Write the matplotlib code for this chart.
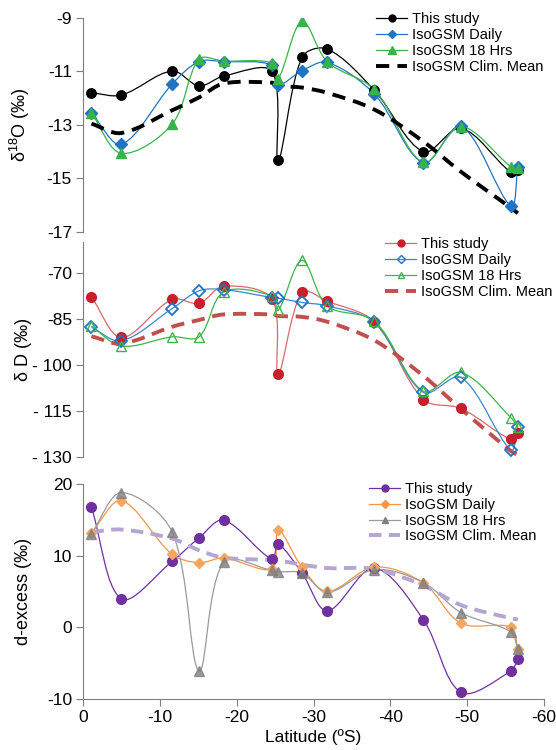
import numpy as np
import matplotlib
matplotlib.use("Agg")
import matplotlib.pyplot as plt
from matplotlib.path import Path
from matplotlib.patches import PathPatch
from matplotlib.lines import Line2D

plt.rcParams['font.family'] = ['Liberation Sans', 'DejaVu Sans']
plt.rcParams['mathtext.fontset'] = 'custom'
plt.rcParams['mathtext.rm'] = 'Liberation Sans'

# latitude of the samples (deg, negative = south)
lat = [-1.1, -5.0, -11.6, -15.1, -18.3, -24.6, -25.4, -28.5, -31.8, -37.9, -44.3, -49.2, -55.7, -56.6]

# delta 18O
d18o_study = [-11.8, -11.88, -10.98, -11.54, -11.17, -11.0, -14.31, -10.47, -10.16, -11.7, -14.0, -13.12, -14.77, -14.68]
d18o_daily = [-12.56, -13.72, -11.47, -10.63, -10.63, -10.76, -11.5, -10.97, -10.66, -11.84, -14.41, -13.04, -16.03, -14.58]
d18o_18h = [-12.56, -14.06, -12.97, -10.54, -10.61, -10.68, -11.28, -9.12, -10.64, -11.67, -14.4, -13.06, -14.56, -14.62]
d18o_clim = [-12.95, -13.3, -12.45, -11.97, -11.45, -11.42, -11.54, -11.6, -11.8, -12.42, -13.62, -14.75, -16.1, -16.3]

# delta D
dD_study = [-77.8, -91.0, -78.6, -79.9, -74.3, -78.5, -102.8, -76.3, -79.2, -85.9, -111.2, -114.1, -124.2, -122.1]
dD_daily = [-87.7, -92.1, -81.6, -75.8, -75.4, -78.0, -78.2, -79.6, -80.7, -86.1, -108.9, -104.0, -127.7, -120.0]
dD_18h = [-87.3, -93.8, -90.8, -90.8, -76.2, -77.5, -82.2, -65.9, -80.8, -85.6, -108.5, -102.4, -117.1, -120.3]
dD_clim = [-90.6, -93.0, -87.5, -85.3, -83.5, -83.5, -84.0, -84.3, -85.9, -91.9, -103.5, -114.3, -128.0, -129.2]

# d-excess
dex_study = [16.73, 3.97, 9.2, 12.48, 14.95, 9.5, 11.6, 7.57, 2.29, 8.27, 1.05, -9.07, -6.1, -4.42]
dex_daily = [13.18, 17.66, 10.19, 9.02, 9.67, 8.2, 13.58, 8.41, 5.0, 8.41, 6.2, 0.56, 0.0, -3.07]
dex_18h = [13.08, 18.79, 13.32, -6.05, 9.11, 7.94, 7.76, 7.57, 4.86, 8.04, 6.25, 2.05, -0.65, -3.07]
dex_clim = [13.3, 13.64, 12.38, 10.75, 9.72, 9.4, 9.35, 8.74, 8.27, 8.13, 5.85, 3.1, 1.26, 1.1]

names = ["This study", "IsoGSM Daily", "IsoGSM 18 Hrs", "IsoGSM Clim. Mean"]
spine_col = '#7f7f7f'


def smooth_path(x, y, sx, sy):
    # excel-like smoothed line, bezier control points from neighbours
    p = np.column_stack([x, y]).astype(float)
    s = np.array([sx, sy])
    n = len(p)
    def dist(a, b):
        return np.hypot(*((b - a) * s))
    verts = [p[0]]
    codes = [Path.MOVETO]
    for i in range(n - 1):
        p0 = p[i - 1] if i > 0 else p[i]
        p1, p2 = p[i], p[i + 1]
        p3 = p[i + 2] if i + 2 < n else p[i + 1]
        d01, d12, d23 = dist(p0, p1), dist(p1, p2), dist(p2, p3)
        m1 = (p2 - p0) / max(d01 + d12, 1e-9)
        m2 = (p3 - p1) / max(d12 + d23, 1e-9)
        verts += [p1 + m1 * d12 / 3, p2 - m2 * d12 / 3, p2]
        codes += [Path.CURVE4] * 3
    return Path(verts, codes)


def draw_series(ax, y, color, lw, marker=None, ms=7, mfc=None, mew=1.0,
                dashes=None, alpha=1.0, mcolor=None):
    x0, x1 = ax.get_xlim()
    y0, y1 = ax.get_ylim()
    bb = ax.get_position()
    sx = bb.width * 556 / abs(x1 - x0)
    sy = bb.height * 750 / abs(y1 - y0)
    ls = '-' if dashes is None else (0, dashes)
    patch = PathPatch(smooth_path(lat, y, sx, sy), fill=False, edgecolor=color,
                      lw=lw, linestyle=ls, capstyle='butt')
    ax.add_patch(patch)
    if marker:
        mc = mcolor or color
        ax.plot(lat, y, ls='none', marker=marker, ms=ms, mec=mc,
                mfc=mc if mfc is None else mfc, mew=mew, alpha=alpha)


def style_axis(ax, ylim, yticks, ylabels, ylabel, bottom=False):
    ax.set_xlim(0, -60)
    ax.set_ylim(*ylim)
    for s in ['top', 'right']:
        ax.spines[s].set_visible(False)
    ax.spines['left'].set_color(spine_col)
    ax.spines['bottom'].set_color(spine_col)
    ax.spines['bottom'].set_visible(bottom)
    ax.set_yticks(yticks)
    ax.set_yticklabels(ylabels)
    ax.tick_params(axis='y', direction='out', length=5, color=spine_col, labelsize=12.5, pad=3)
    if bottom:
        ax.set_xticks([0, -10, -20, -30, -40, -50, -60])
        ax.set_xticklabels(['0', '-10', '-20', '-30', '-40', '-50', '-60'])
        ax.tick_params(axis='x', direction='out', length=5, color=spine_col, labelsize=12.5, pad=3)
        ax.set_xlabel("Latitude (ºS)", fontsize=12.5, labelpad=3)
    else:
        ax.set_xticks([])
    ax.set_ylabel(ylabel, fontsize=13)
    ax.yaxis.set_label_coords(-0.11, 0.5)


def add_legend(ax, handles, x, y):
    ax.legend(handles, names, loc='upper left', bbox_to_anchor=(x, y),
              bbox_transform=ax.figure.transFigure, frameon=False, fontsize=10.5,
              borderpad=0, borderaxespad=0, handlelength=2.15, handletextpad=0.35,
              labelspacing=0.12)


fig = plt.figure(figsize=(5.56, 7.5), dpi=100)
L, W = 0.1493, 0.8291
ax1 = fig.add_axes([L, 0.6907, W, 0.2853])
ax2 = fig.add_axes([L, 0.3903, W, 0.2867])
ax3 = fig.add_axes([L, 0.068, W, 0.2867])

# ---- delta 18O
style_axis(ax1, (-17, -9), [-17, -15, -13, -11, -9], ['-17', '-15', '-13', '-11', '-9'],
           r'δ$^{\mathrm{18}}$O (‰)')
blk, blu, grn = '#000000', '#1f74c4', '#37b449'
draw_series(ax1, d18o_study, blk, 0.9, 'o', 6.8)
draw_series(ax1, d18o_daily, blu, 0.9, 'D', 6.3)
draw_series(ax1, d18o_18h, grn, 0.9, '^', 7.2)
draw_series(ax1, d18o_clim, blk, 2.8, dashes=(3.4, 2.1))
h1 = [Line2D([], [], color=blk, lw=0.9, marker='o', ms=5),
      Line2D([], [], color=blu, lw=0.9, marker='D', ms=4.5),
      Line2D([], [], color=grn, lw=0.9, marker='^', ms=5.5),
      Line2D([], [], color=blk, lw=2.8, ls=(0, (3.4, 2.1)))]
add_legend(ax1, h1, 0.676, 0.9835)

# ---- delta D
style_axis(ax2, (-130, -60), [-130, -115, -100, -85, -70], ['- 130', '- 115', '- 100', '-85', '-70'],
           'δ D (‰)')
red, redl, blu2, grn2, redd = '#c8202a', '#d9686c', '#1f74c4', '#3cb54a', '#c0504d'
draw_series(ax2, dD_study, redl, 0.9, 'o', 7.0, mcolor=red)
draw_series(ax2, dD_daily, '#3a86d0', 0.9, 'D', 6.3, mfc='none', mew=1.3, mcolor=blu2)
draw_series(ax2, dD_18h, grn2, 0.9, '^', 7.8, mfc='none', mew=1.0)
draw_series(ax2, dD_clim, redd, 2.8, dashes=(3.4, 2.0))
h2 = [Line2D([], [], color=redl, lw=0.9, marker='o', ms=5, mec=red, mfc=red),
      Line2D([], [], color='#3a86d0', lw=0.9, marker='D', ms=4.5, mfc='none', mec=blu2),
      Line2D([], [], color=grn2, lw=0.9, marker='^', ms=5, mfc='none'),
      Line2D([], [], color=redd, lw=2.8, ls=(0, (3.4, 2.0)))]
add_legend(ax2, h2, 0.6925, 0.6835)

# ---- d-excess
style_axis(ax3, (-10, 20), [-10, 0, 10, 20], ['-10', '0', '10', '20'], 'd-excess (‰)', bottom=True)
pur, org, gry, lpur = '#7030a0', '#f79646', '#8c8c8c', '#b4a5d2'
draw_series(ax3, dex_study, pur, 0.9, 'o', 7.0)
draw_series(ax3, dex_daily, org, 0.9, 'D', 5.5, mcolor='#f9a55e')
draw_series(ax3, dex_18h, '#9a9a9a', 0.9, '^', 7.2, alpha=0.8, mcolor='#7f7f7f')
draw_series(ax3, dex_clim, lpur, 2.8, dashes=(3.2, 1.9))
h3 = [Line2D([], [], color=pur, lw=0.9, marker='o', ms=5),
      Line2D([], [], color=org, lw=0.9, marker='D', ms=4),
      Line2D([], [], color='#9a9a9a', lw=0.9, marker='^', ms=5, mec='#7f7f7f', mfc='#7f7f7f'),
      Line2D([], [], color=lpur, lw=2.8, ls=(0, (3.2, 1.9)))]
add_legend(ax3, h3, 0.6637, 0.357)

fig.savefig("out.png", dpi=100)
